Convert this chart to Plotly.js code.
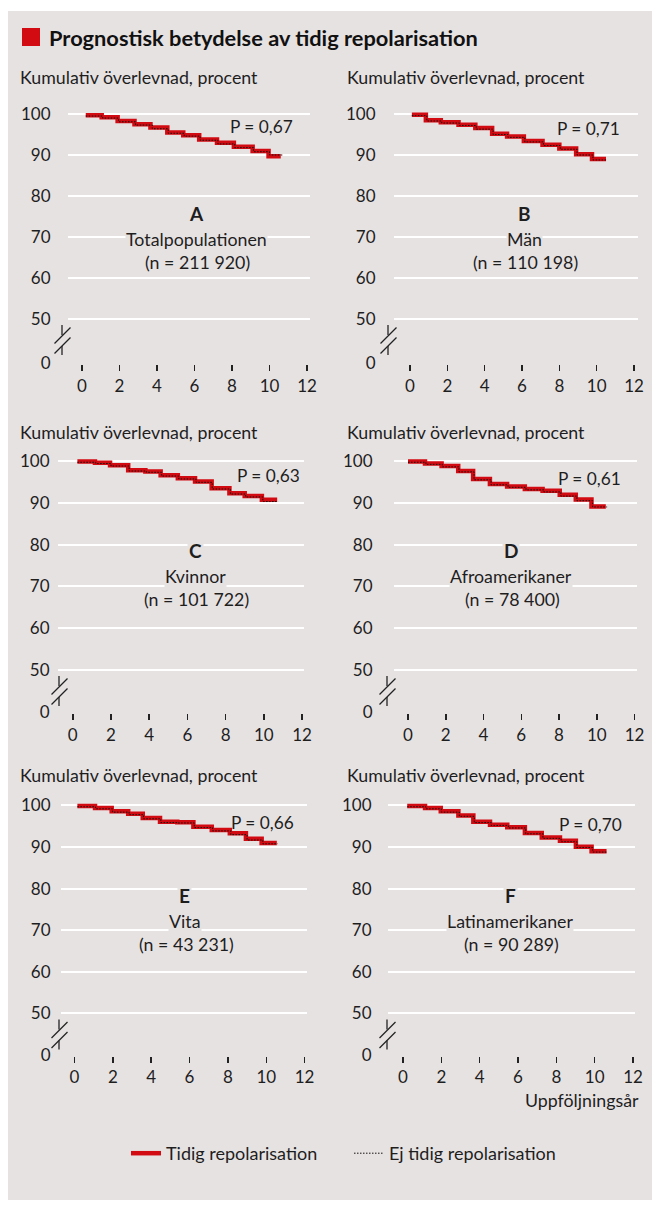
<!DOCTYPE html>
<html>
<head>
<meta charset="utf-8">
<script src="https://cdn.plot.ly/plotly-3.0.1.min.js"></script>
<style>html,body{margin:0;padding:0;background:#fff;}#chart{width:660px;height:1207px;}</style>
</head>
<body>
<div id="chart"></div>
<script>
// ---------- DATA ----------
const panelLetters = ['A','B','C','D','E','F'];
const panelNames = ['Totalpopulationen','Män','Kvinnor','Afroamerikaner','Vita','Latinamerikaner'];
const panelN = ['(n = 211 920)','(n = 110 198)','(n = 101 722)','(n = 78 400)','(n = 43 231)','(n = 90 289)'];
const panelP = ['P = 0,67','P = 0,71','P = 0,63','P = 0,61','P = 0,66','P = 0,70'];
const seriesNames = ['Tidig repolarisation','Ej tidig repolarisation'];
const xTicks = [0,2,4,6,8,10,12];
const yTickLabels = ['0','50','60','70','80','90','100'];
const yTickValues = [50,60,70,80,90,100];

// A
const redA_x = [0.2, 1.05, 1.9, 2.8, 3.65, 4.55, 5.4, 6.25, 7.2, 8.1, 9.1, 9.95, 10.6];
const redA_y = [99.7, 99.2, 98.3, 97.5, 96.7, 95.5, 94.8, 93.8, 93.0, 92.0, 91.0, 89.7, 89.7];
const blkA_x = [0.2, 1.1, 1.95, 2.85, 3.75, 4.6, 5.45, 6.3, 7.25, 8.15, 9.15, 10.0, 10.75];
const blkA_y = [99.5, 99.0, 98.1, 97.3, 96.4, 95.3, 94.6, 93.6, 92.7, 91.8, 90.8, 90.0, 90.0];
// B
const redB_x = [0.1, 0.85, 1.65, 2.6, 3.5, 4.4, 5.2, 6.1, 7.1, 8.0, 8.9, 9.75, 10.5];
const redB_y = [99.8, 98.5, 98.0, 97.4, 96.6, 95.2, 94.5, 93.4, 92.5, 91.6, 90.2, 89.0, 89.0];
const blkB_x = [0.1, 0.9, 1.7, 2.65, 3.55, 4.45, 5.25, 6.15, 7.15, 8.05, 8.95, 9.8, 10.55];
const blkB_y = [99.6, 98.3, 97.8, 97.2, 96.3, 95.0, 94.3, 93.2, 92.3, 91.4, 90.0, 88.8, 88.8];
// C
const redC_x = [0.24, 1.16, 1.95, 2.9, 3.8, 4.6, 5.5, 6.4, 7.27, 8.2, 9.0, 9.9, 10.7];
const redC_y = [99.9, 99.6, 99.0, 97.8, 97.5, 96.6, 95.9, 95.1, 93.5, 92.3, 91.6, 90.7, 90.7];
const blkC_x = [0.24, 1.2, 2.0, 2.95, 3.85, 4.65, 5.55, 6.45, 7.3, 8.25, 9.05, 9.95, 10.75];
const blkC_y = [99.7, 99.4, 98.8, 97.6, 97.3, 96.4, 95.7, 94.9, 93.3, 92.1, 91.4, 90.3, 90.3];
// D
const redD_x = [0.0, 0.9, 1.78, 2.66, 3.45, 4.34, 5.25, 6.19, 7.13, 8.04, 8.89, 9.72, 10.48];
const redD_y = [99.9, 99.4, 98.8, 97.6, 95.7, 94.5, 93.9, 93.3, 92.9, 91.9, 90.8, 89.1, 89.1];
const blkD_x = [0.0, 0.95, 1.82, 2.7, 3.5, 4.4, 5.3, 6.25, 7.2, 8.1, 8.95, 9.78, 10.55];
const blkD_y = [99.7, 99.2, 98.6, 97.4, 95.5, 94.3, 93.7, 93.1, 92.6, 91.6, 90.5, 89.0, 89.0];
// E
const redE_x = [0.15, 1.07, 1.94, 2.8, 3.56, 4.46, 5.36, 6.2, 7.16, 8.1, 8.94, 9.76, 10.55];
const redE_y = [99.9, 99.4, 98.6, 98.0, 97.0, 96.1, 96.0, 94.9, 94.1, 93.3, 92.0, 91.0, 91.0];
const blkE_x = [0.15, 1.1, 1.98, 2.85, 3.6, 4.5, 5.4, 6.25, 7.2, 8.15, 9.0, 9.82, 10.6];
const blkE_y = [99.7, 99.2, 98.4, 97.8, 96.8, 95.9, 95.8, 94.7, 93.9, 93.0, 91.7, 90.8, 90.8];
// F
const redF_x = [0.22, 1.15, 1.97, 2.89, 3.67, 4.54, 5.44, 6.36, 7.24, 8.19, 9.02, 9.84, 10.62];
const redF_y = [99.9, 99.4, 98.6, 97.6, 96.1, 95.4, 94.8, 93.4, 92.3, 91.5, 90.1, 89.0, 89.0];
const blkF_x = [0.22, 1.2, 2.0, 2.94, 3.72, 4.6, 5.5, 6.4, 7.3, 8.25, 9.07, 9.9, 10.68];
const blkF_y = [99.7, 99.2, 98.4, 97.4, 95.9, 95.2, 94.6, 93.2, 92.1, 91.3, 89.9, 88.8, 88.8];

const redX = [redA_x, redB_x, redC_x, redD_x, redE_x, redF_x];
const redY = [redA_y, redB_y, redC_y, redD_y, redE_y, redF_y];
const blkX = [blkA_x, blkB_x, blkC_x, blkD_x, blkE_x, blkF_x];
const blkY = [blkA_y, blkB_y, blkC_y, blkD_y, blkE_y, blkF_y];

// ---------- LAYOUT GEOMETRY (pixels) ----------
const W = 660, H = 1207;
const BG = '#e7e2e2', RED = '#d20a12', INK = '#1e1e1e';
const FONT = 'Lato, "Noto Sans", sans-serif';
const TXT = 17.8;
const rows = [
  {y100:114, y50:319, y0:363.5, title:77},
  {y100:461, y50:670, y0:712.5, title:432},
  {y100:805.5, y50:1013.5, y0:1055, title:775}
];
const geo = [
  {row:0, x0:82,  x12:307,   gl:68,  gr:310,   bx:62,  lr:52,  tx:18,  pX:295, pY:126, cX:196, cY:213},
  {row:0, x0:410, x12:634,   gl:394, gr:638,   bx:388, lr:377, tx:345, pX:622, pY:128, cX:524, cY:213},
  {row:1, x0:72.8,x12:302,   gl:58,  gr:303.7, bx:59,  lr:51,  tx:18,  pX:302, pY:476, cX:195, cY:550},
  {row:1, x0:408, x12:634.5, gl:394, gr:636.6, bx:387, lr:374, tx:345, pX:623, pY:478, cX:511, cY:550},
  {row:2, x0:74.5,x12:304.6, gl:60.5,gr:306.7, bx:59,  lr:52,  tx:18,  pX:296, pY:822, cX:185, cY:895},
  {row:2, x0:403, x12:633,   gl:388, gr:634.5, bx:387, lr:373, tx:345, pX:624, pY:824, cX:510, cY:895}
];
const fx = p => p / W;
const fy = p => 1 - p / H;

const traces = [];
const layout = {
  width: W, height: H, autosize: false,
  margin: {l:0, r:0, t:0, b:0, pad:0},
  paper_bgcolor: '#ffffff', plot_bgcolor: 'rgba(0,0,0,0)',
  font: {family: FONT, color: INK, size: 16},
  showlegend: true,
  legend: {orientation:'h', x: fx(126), y: fy(1135), xanchor:'left', yanchor:'top',
           font:{size:18, color:INK}, bgcolor:'rgba(0,0,0,0)', itemwidth:30,
           entrywidth: 178, entrywidthmode: 'pixels'},
  shapes: [], annotations: []
};

// background box and title marker
layout.shapes.push({type:'rect', xref:'paper', yref:'paper', x0:fx(8), x1:fx(652), y0:fy(11), y1:fy(1200),
  fillcolor:BG, line:{width:0}, layer:'below'});
layout.shapes.push({type:'rect', xref:'paper', yref:'paper', x0:fx(22), x1:fx(40), y0:fy(28), y1:fy(46),
  fillcolor:RED, line:{width:0}});
layout.annotations.push({xref:'paper', yref:'paper', x:fx(47), y:fy(37), xanchor:'left', yanchor:'middle',
  text:'<b>Prognostisk betydelse av tidig repolarisation</b>', showarrow:false, font:{size:21.8, color:'#111'}});
layout.annotations.push({xref:'paper', yref:'paper', x:fx(641), y:fy(1100), xanchor:'right', yanchor:'middle',
  text:'Uppföljningsår', showarrow:false, font:{size:TXT}});

geo.forEach((g, i) => {
  const r = rows[g.row];
  const ky = (r.y50 - r.y100) / 50;
  const zeroVal = 50 - (r.y0 - r.y50) / ky;
  const yTop = 101.2, yBot = zeroVal - 0.15;
  const pTop = r.y100 - (yTop - 100) * ky;
  const pBot = r.y0 + 0.15 * ky;
  const kx = (g.x12 - g.x0) / 12;
  const xs = i === 0 ? '' : String(i + 1);

  layout['xaxis' + xs] = {
    domain: [fx(g.gl), fx(g.gr)], range: [(g.gl - g.x0) / kx, (g.gr - g.x0) / kx],
    anchor: 'y' + xs, tickvals: xTicks, ticktext: xTicks.map(String),
    ticks: 'outside', ticklen: 6, tickwidth: 1.5, tickcolor: '#222',
    showgrid: false, zeroline: false, showline: false, fixedrange: true,
    tickfont: {size: 17, color: INK}
  };
  layout['yaxis' + xs] = {
    domain: [fy(pBot), fy(pTop)], range: [yBot, yTop], anchor: 'x' + xs,
    tickvals: [zeroVal].concat(yTickValues), ticktext: yTickLabels,
    ticks: 'outside', ticklen: Math.max(1, g.gl - g.lr - 3), tickcolor: 'rgba(0,0,0,0)',
    showgrid: true, gridcolor: '#ffffff', gridwidth: 2,
    zeroline: false, showline: false, fixedrange: true,
    tickfont: {size: 17, color: INK}
  };

  traces.push({type:'scatter', mode:'lines', x: redX[i], y: redY[i], xaxis:'x'+xs, yaxis:'y'+xs,
    name: seriesNames[0], legendgroup:'r', showlegend: i === 0, hoverinfo:'skip',
    line:{color:RED, width:4.5, shape:'hv'}});
  traces.push({type:'scatter', mode:'lines', x: blkX[i], y: blkY[i], xaxis:'x'+xs, yaxis:'y'+xs,
    name: seriesNames[1], legendgroup:'b', showlegend: i === 0, hoverinfo:'skip',
    line:{color:'#111', width:1, dash:'1.5px,1.5px', shape:'hv'}});

  // axis break marker
  const b = g.bx, y5 = r.y50;
  const seg = (xa, ya, xb, yb) => layout.shapes.push({type:'line', xref:'paper', yref:'paper',
    x0:fx(xa), y0:fy(ya), x1:fx(xb), y1:fy(yb), line:{color:'#222', width:1.3}});
  seg(b, y5 + 6, b, y5 + 16);
  seg(b - 7.5, y5 + 24.5, b + 8.5, y5 + 8.5);
  seg(b - 7.5, y5 + 34.5, b + 8.5, y5 + 18.5);
  seg(b, y5 + 27, b, y5 + 36);

  // texts
  layout.annotations.push({xref:'paper', yref:'paper', x:fx(g.tx), y:fy(r.title), xanchor:'left', yanchor:'middle',
    text:'Kumulativ överlevnad, procent', showarrow:false, font:{size:TXT}});
  layout.annotations.push({xref:'paper', yref:'paper', x:fx(g.pX), y:fy(g.pY), xanchor:'right', yanchor:'middle',
    text: panelP[i], showarrow:false, font:{size:17.3}});
  layout.annotations.push({xref:'paper', yref:'paper', x:fx(g.cX), y:fy(g.cY), xanchor:'center', yanchor:'middle',
    text:'<b>' + panelLetters[i] + '</b>', showarrow:false, font:{size:19}, bgcolor:BG});
  layout.annotations.push({xref:'paper', yref:'paper', x:fx(g.cX), y:fy(g.cY + 26), xanchor:'center', yanchor:'middle',
    text: panelNames[i], showarrow:false, font:{size:TXT}, bgcolor:BG, borderpad:0});
  layout.annotations.push({xref:'paper', yref:'paper', x:fx(g.cX + 1), y:fy(g.cY + 49), xanchor:'center', yanchor:'middle',
    text: panelN[i], showarrow:false, font:{size:TXT}, bgcolor:BG, borderpad:0});
});

Plotly.newPlot('chart', traces, layout, {displayModeBar:false, staticPlot:true});
</script>
</body>
</html>
